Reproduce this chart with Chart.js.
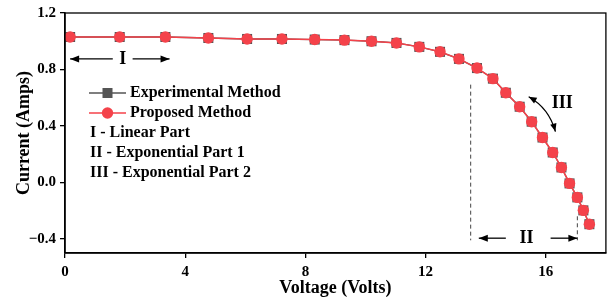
<!DOCTYPE html>
<html><head><meta charset="utf-8">
<script src="https://cdn.jsdelivr.net/npm/chart.js@4.4.0/dist/chart.umd.min.js"></script>
<style>html,body{margin:0;padding:0;background:#fff}#wrap{width:613px;height:301px}</style>
</head><body><div id="wrap"><canvas id="c" width="613" height="301"></canvas></div>
<script>
const voltage = [0.17, 1.82, 3.34, 4.77, 6.06, 7.22, 8.31, 9.30, 10.20, 11.03, 11.79, 12.48, 13.11, 13.71, 14.24, 14.67, 15.13, 15.53, 15.89, 16.23, 16.52, 16.79, 17.05, 17.25, 17.45];
const experimentalCurrent = [1.03, 1.03, 1.03, 1.023, 1.016, 1.016, 1.012, 1.008, 1.0, 0.988, 0.96, 0.925, 0.875, 0.81, 0.735, 0.635, 0.536, 0.43, 0.318, 0.212, 0.106, -0.007, -0.106, -0.198, -0.296];
const proposedCurrent = [1.03, 1.03, 1.03, 1.023, 1.016, 1.016, 1.012, 1.008, 1.0, 0.988, 0.96, 0.925, 0.875, 0.81, 0.735, 0.635, 0.536, 0.43, 0.318, 0.212, 0.106, -0.007, -0.106, -0.198, -0.296];
const xTicks = [0, 4, 8, 12, 16];
const yTicks = [-0.4, 0.0, 0.4, 0.8, 1.2];
const seriesNames = ['Experimental Method', 'Proposed Method'];
const regionNotes = ['I - Linear Part', 'II - Exponential Part 1', 'III - Exponential Part 2'];

const FONT = "'Liberation Serif', 'Times New Roman', serif";

function arrowHead(ctx, x1, y1, x2, y2, len, w) {
  const a = Math.atan2(y2 - y1, x2 - x1);
  ctx.beginPath();
  ctx.moveTo(x2, y2);
  ctx.lineTo(x2 - len*Math.cos(a) + w*Math.sin(a), y2 - len*Math.sin(a) - w*Math.cos(a));
  ctx.lineTo(x2 - len*Math.cos(a) - w*Math.sin(a), y2 - len*Math.sin(a) + w*Math.cos(a));
  ctx.closePath();
  ctx.fill();
}
function arrow(ctx, x1, y1, x2, y2) {
  ctx.beginPath(); ctx.moveTo(x1, y1); ctx.lineTo(x2, y2); ctx.stroke();
  arrowHead(ctx, x1, y1, x2, y2, 9, 3.5);
}

const annot = {
  id: 'annot',
  afterDatasetsDraw(chart) {
    const ctx = chart.ctx, a = chart.chartArea;
    const xs = chart.scales.x, ys = chart.scales.y;
    const X = v => xs.getPixelForValue(v), Y = v => ys.getPixelForValue(v);
    ctx.save();
    // frame
    ctx.strokeStyle = '#000'; ctx.lineWidth = 1.3;
    ctx.strokeRect(a.left, a.top, a.right - a.left, a.bottom - a.top);
    // dashed lines
    ctx.setLineDash([4, 3]); ctx.lineWidth = 1; ctx.strokeStyle = '#444';
    ctx.beginPath(); ctx.moveTo(X(13.5), Y(0.735) + 6); ctx.lineTo(X(13.5), Y(-0.41)); ctx.stroke();
    ctx.beginPath(); ctx.moveTo(X(17.05), Y(-0.24)); ctx.lineTo(X(17.05), Y(-0.41)); ctx.stroke();
    ctx.setLineDash([]);
    // arrows
    ctx.strokeStyle = '#000'; ctx.fillStyle = '#000'; ctx.lineWidth = 1.3;
    const yI = Y(0.875);
    arrow(ctx, X(1.59), yI, X(0.17), yI);
    arrow(ctx, X(2.25), yI, X(3.48), yI);
    const yII = Y(-0.395);
    arrow(ctx, X(14.67), yII, X(13.77), yII);
    arrow(ctx, X(16.16), yII, X(17.05), yII);
    // curved double arrow III
    const sx = X(15.43), sy = Y(0.607), ex = X(16.32), ey = Y(0.36);
    const cx = (sx + ex)/2 + 7, cy = (sy + ey)/2 - 6;
    ctx.beginPath(); ctx.moveTo(sx, sy); ctx.quadraticCurveTo(cx, cy, ex, ey); ctx.stroke();
    arrowHead(ctx, cx, cy, sx, sy, 8, 3.2);
    arrowHead(ctx, cx, cy, ex, ey, 8, 3.2);
    // labels
    ctx.font = 'bold 18px ' + FONT; ctx.textBaseline = 'middle'; ctx.textAlign = 'center';
    ctx.fillText('I', X(1.92), yI);
    ctx.fillText('II', X(15.36), yII);
    ctx.fillText('III', X(16.55), Y(0.56));
    // legend
    const lx = a.left + 24, lx2 = a.left + 61;
    const ds = chart.data.datasets;
    const rows = [a.top + 80, a.top + 100];
    ctx.textAlign = 'left';
    ctx.font = 'bold 16px ' + FONT;
    ctx.strokeStyle = '#555'; ctx.lineWidth = 1.3;
    ctx.beginPath(); ctx.moveTo(lx, rows[0]); ctx.lineTo(lx2, rows[0]); ctx.stroke();
    ctx.fillStyle = '#555'; ctx.fillRect((lx+lx2)/2 - 5, rows[0] - 5, 10, 10);
    ctx.fillStyle = '#000'; ctx.fillText(ds[0].label, lx2 + 4, rows[0]);
    ctx.strokeStyle = '#f4424a';
    ctx.beginPath(); ctx.moveTo(lx, rows[1]); ctx.lineTo(lx2, rows[1]); ctx.stroke();
    ctx.fillStyle = '#f4424a'; ctx.beginPath(); ctx.arc((lx+lx2)/2, rows[1], 5.7, 0, Math.PI*2); ctx.fill();
    ctx.fillStyle = '#000'; ctx.fillText(ds[1].label, lx2 + 4, rows[1]);
    regionNotes.forEach((t, i) => ctx.fillText(t, a.left + 25, a.top + 120 + i*20));
    ctx.restore();
  }
};

new Chart(document.getElementById('c'), {
  type: 'scatter',
  data: {
    datasets: [
      { label: seriesNames[0], data: voltage.map((v, i) => ({x: v, y: experimentalCurrent[i]})),
        showLine: true, borderColor: '#555', borderWidth: 1.3, backgroundColor: '#555',
        pointStyle: 'rect', pointRadius: 7.1, pointBorderWidth: 0, order: 2 },
      { label: seriesNames[1], data: voltage.map((v, i) => ({x: v, y: proposedCurrent[i]})),
        showLine: true, borderColor: '#f4424a', borderWidth: 1.5, backgroundColor: '#f4424a',
        pointStyle: 'circle', pointRadius: 5.7, pointBorderWidth: 0, order: 1 }
    ]
  },
  options: {
    responsive: false, animation: false, devicePixelRatio: 1,
    layout: { padding: { top: 13, right: 5, left: 0, bottom: 0 } },
    plugins: { legend: { display: false }, tooltip: { enabled: false } },
    scales: {
      x: {
        type: 'linear', min: 0, max: 18,
        afterBuildTicks: s => { s.ticks = xTicks.map(v => ({value: v})); },
        afterFit: s => { s.height = 48; },
        grid: { display: true, drawOnChartArea: false, drawTicks: true, tickLength: 5, color: '#000', lineWidth: 1.3 },
        border: { display: true, color: '#000', width: 1.5 },
        ticks: { color: '#000', font: { family: FONT, size: 15, weight: 'bold' }, padding: 5, maxRotation: 0 },
        title: { display: true, text: 'Voltage (Volts)', color: '#000', font: { family: FONT, size: 18, weight: 'bold' }, padding: { top: 0, bottom: 2 } }
      },
      y: {
        type: 'linear', min: -0.5, max: 1.2,
        afterBuildTicks: s => { s.ticks = yTicks.map(v => ({value: v})); },
        afterFit: s => { s.width = 65; },
        grid: { display: true, drawOnChartArea: false, drawTicks: true, tickLength: 5, color: '#000', lineWidth: 1.3 },
        border: { display: true, color: '#000', width: 1.5 },
        ticks: { color: '#000', font: { family: FONT, size: 15, weight: 'bold' }, padding: 4,
          callback: v => v.toFixed(1).replace('-', '\u2212') },
        title: { display: true, text: 'Current (Amps)', color: '#000', font: { family: FONT, size: 18, weight: 'bold' }, padding: { top: 14, bottom: 0 } }
      }
    }
  },
  plugins: [annot]
});
</script></body></html>
